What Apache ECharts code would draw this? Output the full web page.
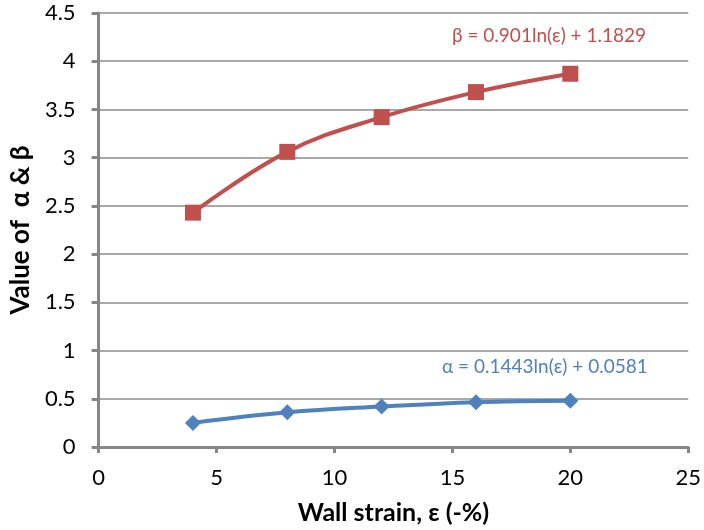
<!DOCTYPE html>
<html><head><meta charset="utf-8">
<script src="https://cdn.jsdelivr.net/npm/echarts@6/dist/echarts.min.js"></script>
<style>html,body{margin:0;padding:0;background:#fff}#c{width:704px;height:530px}</style>
</head><body><div id="c"></div>
<script>
const strain = [4, 8, 12, 16, 20];
const beta = [2.43, 3.06, 3.42, 3.68, 3.87];
const alpha = [0.25, 0.36, 0.42, 0.465, 0.48];
const betaEq = 'β = 0.901ln(ε) + 1.1829';
const alphaEq = 'α = 0.1443ln(ε) + 0.0581';
const FONT = 'Lato, "Open Sans", sans-serif';
const chart = echarts.init(document.getElementById('c'));
chart.setOption({
  animation: false,
  grid: {left: 96, right: 15, top: 13, bottom: 82},
  xAxis: {
    type: 'value', min: 0, max: 25, interval: 5,
    name: 'Wall strain, ε (-%)', nameLocation: 'middle', nameGap: 53,
    nameTextStyle: {fontFamily: FONT, fontWeight: 'bold', fontSize: 25, color: '#000'},
    axisLine: {lineStyle: {color: '#868686', width: 3}},
    axisTick: {show: true, length: 6, lineStyle: {color: '#868686', width: 3}},
    axisLabel: {fontFamily: FONT, fontSize: 22, color: '#000', margin: 20},
    splitLine: {show: false}
  },
  yAxis: {
    type: 'value', min: 0, max: 4.5, interval: 0.5,
    name: 'Value of  α & β', nameLocation: 'middle', nameGap: 64,
    nameTextStyle: {fontFamily: FONT, fontWeight: 'bold', fontSize: 26, color: '#000'},
    axisLine: {show: true, lineStyle: {color: '#868686', width: 3}},
    axisTick: {show: true, length: 7, lineStyle: {color: '#868686', width: 3}},
    axisLabel: {fontFamily: FONT, fontSize: 22, color: '#000', margin: 23},
    splitLine: {lineStyle: {color: '#8c8c8c', width: 1.5}}
  },
  series: [
    {type: 'line', data: strain.map((x, i) => [x, beta[i]]), smooth: 0.4,
     symbol: 'rect', symbolSize: 16,
     lineStyle: {color: '#C0504D', width: 4}, itemStyle: {color: '#C0504D'}},
    {type: 'line', data: strain.map((x, i) => [x, alpha[i]]), smooth: 0.4,
     symbol: 'diamond', symbolSize: 16,
     lineStyle: {color: '#4F81BD', width: 4}, itemStyle: {color: '#4F81BD'}}
  ],
  graphic: [
    {type: 'text', left: 452, top: 26, style: {text: betaEq, fontFamily: FONT, fontSize: 19, fill: '#C0504D'}},
    {type: 'text', left: 442, top: 357, style: {text: alphaEq, fontFamily: FONT, fontSize: 19, fill: '#4F81BD'}}
  ]
});
</script></body></html>
